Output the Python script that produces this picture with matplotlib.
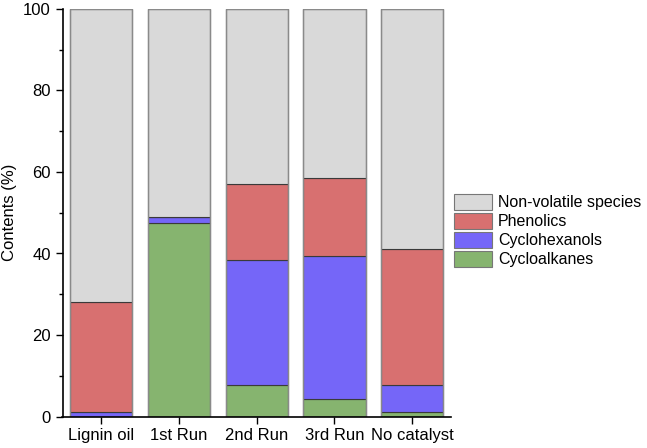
import matplotlib
matplotlib.use("Agg")
import matplotlib.pyplot as plt
import numpy as np
from matplotlib.ticker import MultipleLocator

plt.rcParams['font.family'] = ['Liberation Sans', 'DejaVu Sans']

categories = ["Lignin oil", "1st Run", "2nd Run", "3rd Run", "No catalyst"]
cycloalkanes = [0.0, 47.4, 7.8, 4.4, 1.2]
cyclohexanols = [1.2, 1.5, 30.7, 35.1, 6.6]
phenolics = [26.8, 0.0, 18.5, 19.0, 33.4]
series_names = ["Cycloalkanes", "Cyclohexanols", "Phenolics", "Non-volatile species"]
colors = ["#86B46F", "#7566F8", "#D87070", "#D9D9D9"]

nonvolatile = [100 - a - b - c for a, b, c in zip(cycloalkanes, cyclohexanols, phenolics)]
series = [cycloalkanes, cyclohexanols, phenolics, nonvolatile]

fig = plt.figure(figsize=(6.47, 4.48), dpi=100)
ax = fig.add_axes([62.5/647, 1 - 416.5/448, (451 - 62.5)/647, (416.5 - 9)/448])

x = np.arange(len(categories))
bottom = np.zeros(len(categories))
handles = []
for name, vals, col in zip(series_names, series, colors):
    h = ax.bar(x, vals, bottom=bottom, width=0.8, color=col, edgecolor="#3a3a3a",
               linewidth=0.8, label=name)
    handles.append(h)
    bottom += np.array(vals)
# gray outline around each full bar
ax.bar(x, [100]*len(x), width=0.8, fill=False, edgecolor="#8a8a8a", linewidth=1.0)

ax.set_xlim(-0.5, 4.5)
ax.set_ylim(0, 100)
ax.set_xticks(x)
ax.set_xticklabels(categories, fontsize=12)
ax.yaxis.set_major_locator(MultipleLocator(20))
ax.yaxis.set_minor_locator(MultipleLocator(10))
ax.tick_params(axis='y', which='major', direction='out', length=5, width=1, labelsize=12)
ax.tick_params(axis='y', which='minor', direction='out', length=3, width=1)
ax.tick_params(axis='x', which='major', direction='out', length=5, width=1)
ax.set_ylabel("Contents (%)", fontsize=12)
for s in ['top', 'right']:
    ax.spines[s].set_visible(False)
for s in ['left', 'bottom']:
    ax.spines[s].set_linewidth(1.2)
    ax.spines[s].set_zorder(5)

leg = fig.legend(handles[::-1], series_names[::-1], loc='upper left',
                 bbox_to_anchor=(454/647, 1 - 194/448), frameon=False, fontsize=11.5,
                 handlelength=2.38, handleheight=1.13, handletextpad=0.37, labelspacing=0.17,
                 borderaxespad=0, borderpad=0)
for p in leg.get_patches():
    p.set_edgecolor("#777777")

fig.savefig("out.png", dpi=100)
